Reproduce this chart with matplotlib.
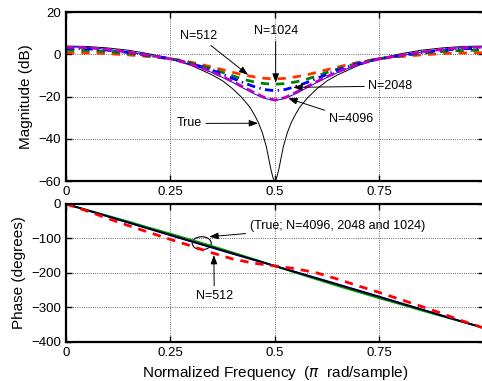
import matplotlib
matplotlib.use("Agg")
import matplotlib.pyplot as plt
from matplotlib.patches import Ellipse

plt.rcParams['font.family'] = ['Liberation Sans', 'DejaVu Sans']

# magnitude estimates (dB)
f_est = [0, 0.025, 0.05, 0.075, 0.1, 0.125, 0.15, 0.175, 0.2, 0.225, 0.25,
         0.275, 0.3, 0.325, 0.35, 0.375, 0.4, 0.425, 0.45, 0.475, 0.5,
         0.525, 0.55, 0.575, 0.6, 0.625, 0.65, 0.675, 0.7, 0.725, 0.75,
         0.775, 0.8, 0.825, 0.85, 0.875, 0.9, 0.925, 0.95, 0.975, 1.0]
mag_512 = [0.8, 0.8, 0.7, 0.6, 0.4, 0.1, -0.2, -0.6, -1.0, -1.5, -2.0,
           -2.8, -3.7, -4.8, -6.0, -7.2, -8.5, -9.7, -10.6, -11.3, -11.6,
           -11.3, -10.6, -9.7, -8.5, -7.2, -6.0, -4.8, -3.7, -2.8, -2.0,
           -1.5, -1.0, -0.6, -0.2, 0.1, 0.4, 0.6, 0.7, 0.8, 0.8]
mag_1024 = [2.0, 2.0, 1.9, 1.7, 1.4, 1.0, 0.5, -0.1, -0.7, -1.3, -2.0,
            -3.0, -4.1, -5.4, -6.9, -8.5, -10.2, -11.8, -13.0, -13.8, -14.1,
            -13.8, -13.0, -11.8, -10.2, -8.5, -6.9, -5.4, -4.1, -3.0, -2.0,
            -1.3, -0.7, -0.1, 0.5, 1.0, 1.4, 1.7, 1.9, 2.0, 2.0]
mag_2048 = [2.9, 2.9, 2.7, 2.4, 2.0, 1.5, 0.9, 0.2, -0.5, -1.2, -2.0,
            -3.1, -4.3, -5.8, -7.5, -9.4, -11.4, -13.4, -15.2, -16.6, -17.2,
            -16.6, -15.2, -13.4, -11.4, -9.4, -7.5, -5.8, -4.3, -3.1, -2.0,
            -1.2, -0.5, 0.2, 0.9, 1.5, 2.0, 2.4, 2.7, 2.9, 2.9]
mag_4096 = [3.4, 3.4, 3.2, 2.8, 2.4, 1.8, 1.1, 0.4, -0.4, -1.2, -2.1,
            -3.3, -4.7, -6.4, -8.3, -10.5, -12.9, -15.5, -18.0, -20.4, -21.6,
            -20.4, -18.0, -15.5, -12.9, -10.5, -8.3, -6.4, -4.7, -3.3, -2.1,
            -1.2, -0.4, 0.4, 1.1, 1.8, 2.4, 2.8, 3.2, 3.4, 3.4]
mag_thin = [3.5, 3.5, 3.3, 2.9, 2.4, 1.8, 1.1, 0.3, -0.5, -1.3, -2.2,
            -3.4, -4.9, -6.6, -8.6, -10.9, -13.3, -16.0, -18.6, -20.8, -21.9,
            -20.8, -18.6, -16.0, -13.3, -10.9, -8.6, -6.6, -4.9, -3.4, -2.2,
            -1.3, -0.5, 0.3, 1.1, 1.8, 2.4, 2.9, 3.3, 3.5, 3.5]

# true magnitude (dB)
f_true = [0, 0.05, 0.1, 0.15, 0.2, 0.25, 0.3, 0.35, 0.375, 0.4, 0.42, 0.44,
          0.45, 0.46, 0.47, 0.48, 0.485, 0.49, 0.495, 0.5,
          0.505, 0.51, 0.515, 0.52, 0.53, 0.54, 0.55, 0.56, 0.58, 0.6,
          0.625, 0.65, 0.7, 0.75, 0.8, 0.85, 0.9, 0.95, 1.0]
mag_true = [4.0, 3.8, 3.1, 2.0, 0.3, -2.0, -5.2, -9.7, -12.5, -16.4, -20.2,
            -24.9, -28.2, -32.0, -37.0, -44.0, -49.0, -54.0, -58.0, -61.0,
            -58.0, -54.0, -49.0, -44.0, -37.0, -32.0, -28.2, -24.9, -20.2,
            -16.4, -12.5, -9.7, -5.2, -2.0, 0.3, 2.0, 3.1, 3.8, 4.0]

# phase (degrees)
f_ph = [0, 0.05, 0.1, 0.15, 0.2, 0.25, 0.3, 0.35, 0.4, 0.45, 0.5,
        0.55, 0.6, 0.65, 0.7, 0.75, 0.8, 0.85, 0.9, 0.95, 1.0]
ph_true = [0, -18, -36, -54, -72, -90, -108, -126, -144, -162, -180,
           -198, -216, -234, -252, -270, -288, -306, -324, -342, -360]
ph_2048 = [0, -18, -36, -54.5, -72.5, -91, -109, -127, -145, -162.5, -180,
           -197.5, -215, -233, -251, -269, -287.5, -305.5, -324, -342, -360]
ph_1024 = [0, -17, -34, -51, -69, -86, -104, -122, -141, -160, -180,
           -200, -219, -238, -256, -274, -291, -309, -326, -343, -360]
ph_512 = [0, -20, -42, -63, -83, -103, -122, -142, -160, -172, -180,
          -188, -200, -218, -238, -257, -277, -297, -318, -340, -360]

xticks = [0, 0.25, 0.5, 0.75]
xticklabels = ['0', '0.25', '0.5', '0.75']

fig = plt.figure(figsize=(4.82, 3.81), dpi=100)
ax1 = fig.add_axes([0.1369, 0.5249, 0.8666, 0.4428])
ax2 = fig.add_axes([0.1369, 0.1031, 0.8666, 0.3615])

ax1.plot(f_true, mag_true, color='k', lw=0.7)
ax1.plot(f_est, mag_512, color='#ff3300', lw=2, ls=(0, (3, 2.5)))
ax1.plot(f_est, mag_1024, color='#008000', lw=2, ls=(0, (3, 2.5)))
ax1.plot(f_est, mag_2048, color='b', lw=2, ls=(0, (3, 1.6, 0.5, 1.6)))
ax1.plot(f_est, mag_thin, color='b', lw=0.7)
ax1.plot(f_est, mag_4096, color='m', lw=2, ls=(0, (3, 1.5)))
ax1.set_xlim(0, 1)
ax1.set_ylim(-60, 20)
ax1.set_yticks([-60, -40, -20, 0, 20])
ax1.set_ylabel('Magnitude (dB)', fontsize=11)

ax2.plot(f_ph, ph_1024, color='#00a000', lw=1.3)
ax2.plot(f_ph, ph_2048, color='b', lw=1.3)
ax2.plot(f_ph, ph_true, color='k', lw=1.2)
ax2.plot(f_ph, ph_512, color='r', lw=2, ls=(0, (3, 2.5)))
ax2.set_xlim(0, 1)
ax2.set_ylim(-400, 0)
ax2.set_yticks([-400, -300, -200, -100, 0])
ax2.set_ylabel('Phase (degrees)', fontsize=11)
ax2.set_xlabel('Normalized Frequency  ($\\pi$  rad/sample)', fontsize=11)

for ax in (ax1, ax2):
    ax.set_xticks(xticks)
    ax.set_xticklabels(xticklabels)
    ax.grid(True, ls=':', color='k', lw=0.6, alpha=0.8)
    ax.tick_params(direction='in', labelsize=9.5, width=1, length=4,
                   top=True, right=True)
    for s in ax.spines.values():
        s.set_linewidth(1.6)

arw = dict(arrowstyle='-|>,head_length=0.6,head_width=0.22', color='k',
           lw=0.7, shrinkA=1, shrinkB=0)
txt = dict(fontsize=9, ha='center', va='center')
ax1.annotate('N=512', xy=(0.436, -9.7), xytext=(0.318, 8.8), arrowprops=arw, **txt)
ax1.annotate('N=1024', xy=(0.502, -13.4), xytext=(0.502, 11.1), arrowprops=arw, **txt)
ax1.annotate('N=2048', xy=(0.544, -15.6), xytext=(0.777, -15.0), arrowprops=arw, **txt)
ax1.annotate('N=4096', xy=(0.532, -20.8), xytext=(0.682, -30.5), arrowprops=arw, **txt)
ax1.annotate('True', xy=(0.46, -32.6), xytext=(0.295, -32.7), arrowprops=arw, **txt)

ax2.add_patch(Ellipse((0.325, -114), 0.0455, 38, fill=False, color='k', lw=0.8))
ax2.annotate('(True; N=4096, 2048 and 1024)', xy=(0.343, -95), xytext=(0.44, -63),
             arrowprops=arw, fontsize=9, ha='left', va='center')
ax2.annotate('N=512', xy=(0.354, -148), xytext=(0.355, -267), arrowprops=arw, **txt)

fig.savefig('out.png', dpi=100)
